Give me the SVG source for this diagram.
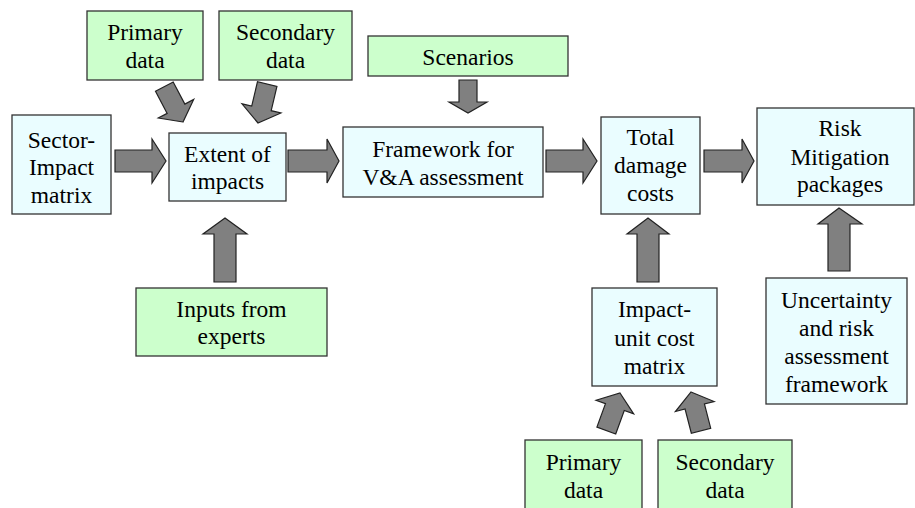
<svg xmlns="http://www.w3.org/2000/svg" width="915" height="508" viewBox="0 0 915 508">
<style>
.g{fill:#ccffcc;stroke:#333;stroke-width:1.3}
.b{fill:#eafdff;stroke:#333;stroke-width:1.3}
text{font-family:'Liberation Serif','Times New Roman',serif;font-size:23.5px;fill:#000;text-anchor:middle}
.a{fill:#808080;stroke:#222;stroke-width:1.2;stroke-linejoin:miter}
</style>
<defs>
<polygon id="diag" points="0,0 20,15 10,15 10,40 -10,40 -10,15 -20,15"/>
</defs>
<rect width="915" height="508" fill="#fff"/>

<g id="connectors">
<use href="#diag" class="a" transform="translate(183,122) rotate(152.2)"/>
<use href="#diag" class="a" transform="translate(258,123) rotate(193.3)"/>
<use href="#diag" class="a" transform="translate(620,393) rotate(20)"/>
<use href="#diag" class="a" transform="translate(691,392) rotate(-14.5)"/>
<polygon class="a" points="459,80 477,80 477,102 487,102 468,113 449,102 459,102"/>
<polygon class="a" points="115,150 152,150 152,139 166,161 152,183 152,172 115,172"/>
<polygon class="a" points="288,150 327,150 327,139 339,161 327,183 327,172 288,172"/>
<polygon class="a" points="546,150 583,150 583,139 597,161 583,183 583,172 546,172"/>
<polygon class="a" points="704,150 742,150 742,139 754,161 742,183 742,172 704,172"/>
<polygon class="a" points="214,282 214,234 203,234 225,218 247,234 236,234 236,282"/>
<polygon class="a" points="637,282 637,234 627,234 648,218 669,234 659,234 659,282"/>
<polygon class="a" points="828,271 828,224 818,224 839,208 862,224 850,224 850,271"/>
</g>

<g id="primary-top">
<rect class="g" x="87" y="11" width="116" height="69"/>
<text x="145" y="40">Primary</text>
<text x="145" y="68">data</text>
</g>
<g id="secondary-top">
<rect class="g" x="219" y="11" width="133" height="69"/>
<text x="285.5" y="40">Secondary</text>
<text x="285.5" y="68">data</text>
</g>
<g id="scenarios">
<rect class="g" x="368" y="36" width="200" height="40"/>
<text x="468" y="65">Scenarios</text>
</g>
<g id="sector-impact">
<rect class="b" x="12" y="115" width="99" height="99"/>
<text x="61.5" y="148">Sector-</text>
<text x="61.5" y="175">Impact</text>
<text x="61.5" y="203">matrix</text>
</g>
<g id="extent">
<rect class="b" x="169" y="133" width="117" height="68"/>
<text x="227.5" y="162">Extent of</text>
<text x="227.5" y="189">impacts</text>
</g>
<g id="framework">
<rect class="b" x="343" y="127" width="200" height="70"/>
<text x="443" y="157">Framework for</text>
<text x="443" y="185">V&amp;A assessment</text>
</g>
<g id="total">
<rect class="b" x="601" y="117" width="99" height="97"/>
<text x="650.5" y="145">Total</text>
<text x="650.5" y="173">damage</text>
<text x="650.5" y="201">costs</text>
</g>
<g id="risk">
<rect class="b" x="757" y="108" width="157" height="97"/>
<text x="840" y="136">Risk</text>
<text x="840" y="165">Mitigation</text>
<text x="840" y="192">packages</text>
</g>
<g id="inputs">
<rect class="g" x="136" y="288" width="191" height="68"/>
<text x="231.5" y="317">Inputs from</text>
<text x="231.5" y="344">experts</text>
</g>
<g id="impact-unit">
<rect class="b" x="592" y="288" width="125" height="98"/>
<text x="654.5" y="317">Impact-</text>
<text x="654.5" y="346">unit cost</text>
<text x="654.5" y="374">matrix</text>
</g>
<g id="uncertainty">
<rect class="b" x="766" y="278" width="141" height="126"/>
<text x="836.5" y="308">Uncertainty</text>
<text x="836.5" y="336">and risk</text>
<text x="836.5" y="364">assessment</text>
<text x="836.5" y="392">framework</text>
</g>
<g id="primary-bottom">
<rect class="g" x="525" y="440" width="117" height="75"/>
<text x="583.5" y="470">Primary</text>
<text x="583.5" y="498">data</text>
</g>
<g id="secondary-bottom">
<rect class="g" x="658" y="440" width="134" height="75"/>
<text x="725" y="470">Secondary</text>
<text x="725" y="498">data</text>
</g>
</svg>
